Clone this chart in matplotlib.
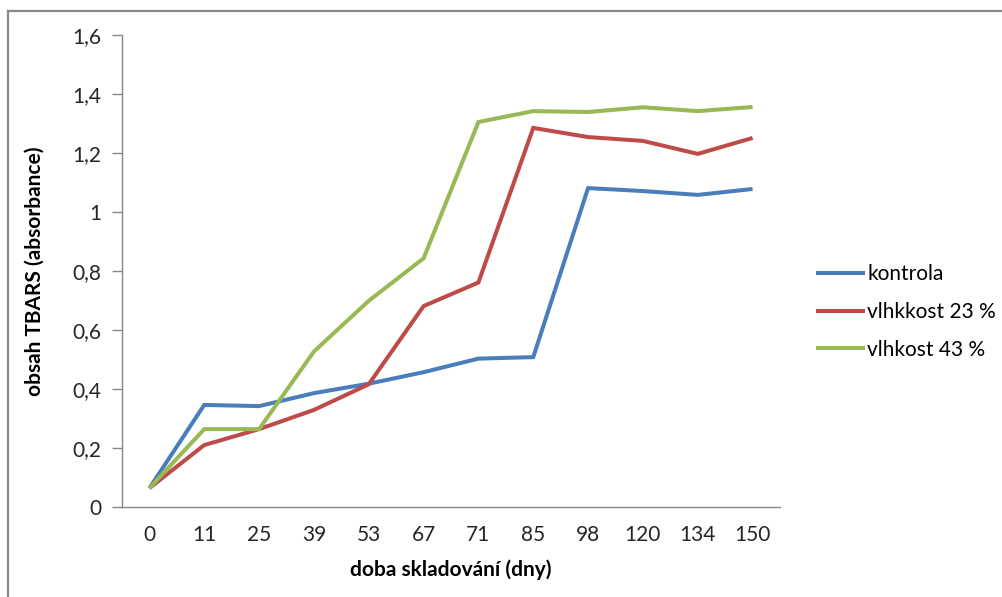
import matplotlib
matplotlib.use("Agg")
import matplotlib.pyplot as plt
from matplotlib.lines import Line2D

# Storage time (days) used as category labels
days = ["0", "11", "25", "39", "53", "67", "71", "85", "98", "120", "134", "150"]

# TBARS absorbance per storage variant
kontrola = [0.064, 0.346, 0.342, 0.386, 0.418, 0.457, 0.503, 0.508, 1.081, 1.071, 1.058, 1.078]
vlhkost_23 = [0.064, 0.210, 0.264, 0.329, 0.416, 0.681, 0.761, 1.285, 1.254, 1.241, 1.197, 1.251]
vlhkost_43 = [0.064, 0.264, 0.264, 0.527, 0.699, 0.843, 1.305, 1.342, 1.339, 1.355, 1.342, 1.356]

series_names = ["kontrola", "vlhkkost 23 %", "vlhkost 43 %"]
colors = ["#4A7EBB", "#BE4B48", "#98B954"]
yticks = [0, 0.2, 0.4, 0.6, 0.8, 1.0, 1.2, 1.4, 1.6]

plt.rcParams["font.family"] = ["Lato", "DejaVu Sans"]

W, H = 1003, 597
fig = plt.figure(figsize=(W / 100, H / 100), dpi=100)
fig.patch.set_facecolor("white")

# chart-area frame (top and left edges)
fig.add_artist(Line2D([8 / W, 8 / W], [0, 1 - 11 / H], transform=fig.transFigure,
                      color="#888888", lw=1.6))
fig.add_artist(Line2D([8 / W, 1], [1 - 11 / H, 1 - 11 / H], transform=fig.transFigure,
                      color="#888888", lw=1.6))

ax = fig.add_axes([122 / W, 1 - 507 / H, (780 - 122) / W, (507 - 35) / H])

x = list(range(len(days)))
for vals, name, c in zip([kontrola, vlhkost_23, vlhkost_43], series_names, colors):
    ax.plot(x, vals, color=c, lw=2.9, label=name, solid_joinstyle="miter",
            solid_capstyle="butt")

ax.set_xlim(-0.5, len(days) - 0.5)
ax.set_ylim(0, 1.6)
ax.set_xticks(x)
ax.set_xticklabels(days)
ax.set_yticks(yticks)
ax.set_yticklabels([("%g" % v).replace(".", ",") for v in yticks])

for s in ["top", "right"]:
    ax.spines[s].set_visible(False)
for s in ["left", "bottom"]:
    ax.spines[s].set_color("#868686")
    ax.spines[s].set_linewidth(1.0)

ax.tick_params(axis="x", length=0, pad=13, labelsize=15, labelcolor="#262626")
ax.tick_params(axis="y", length=7, width=1.0, color="#868686", pad=8,
               labelsize=15, labelcolor="#262626")

ax.set_xlabel("doba skladování (dny)", fontsize=15, fontweight="bold", labelpad=10)
ax.set_ylabel("obsah TBARS (absorbance)", fontsize=15, fontweight="bold", labelpad=20)

leg = fig.legend(loc="upper left", bbox_to_anchor=(808 / W, 1 - 256 / H),
                 frameon=False, fontsize=15, handlelength=2.35, handletextpad=0.1,
                 labelspacing=0.85, borderaxespad=0)

fig.savefig("out.png", dpi=100, facecolor="white")
